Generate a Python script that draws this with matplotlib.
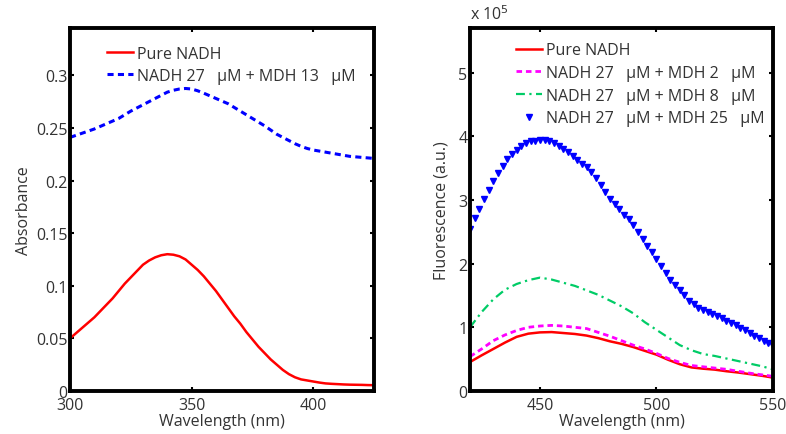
import matplotlib
matplotlib.use("Agg")
import matplotlib.pyplot as plt

plt.rcParams['font.family'] = ['Open Sans', 'DejaVu Sans']
plt.rcParams['text.color'] = '#333333'
plt.rcParams['axes.labelcolor'] = '#333333'
plt.rcParams['xtick.color'] = '#000000'
plt.rcParams['ytick.color'] = '#000000'
plt.rcParams['xtick.labelcolor'] = '#333333'
plt.rcParams['ytick.labelcolor'] = '#333333'

# --- absorbance panel data (2.5 nm steps) ---
abs_wl = [300, 302.5, 305, 307.5, 310, 312.5, 315, 317.5, 320, 322.5, 325,
          327.5, 330, 332.5, 335, 337.5, 340, 342.5, 345, 347.5, 350, 352.5,
          355, 357.5, 360, 362.5, 365, 367.5, 370, 372.5, 375, 377.5, 380,
          382.5, 385, 387.5, 390, 392.5, 395, 397.5, 400, 402.5, 405, 407.5,
          410, 412.5, 415, 417.5, 420, 422.5, 425]
abs_pure = [0.050, 0.055, 0.060, 0.065, 0.070, 0.076, 0.082, 0.088, 0.095,
            0.102, 0.108, 0.114, 0.120, 0.124, 0.127, 0.129, 0.130, 0.1295,
            0.128, 0.125, 0.120, 0.115, 0.109, 0.102, 0.095, 0.087, 0.079,
            0.071, 0.064, 0.056, 0.049, 0.042, 0.036, 0.030, 0.025, 0.020,
            0.016, 0.013, 0.011, 0.010, 0.009, 0.008, 0.0072, 0.0068, 0.0065,
            0.0062, 0.0060, 0.0059, 0.0058, 0.0056, 0.0055]
abs_mdh13 = [0.241, 0.243, 0.245, 0.247, 0.249, 0.2515, 0.254, 0.2565, 0.259,
             0.2625, 0.266, 0.269, 0.272, 0.275, 0.278, 0.281, 0.284, 0.2858,
             0.287, 0.2875, 0.287, 0.2853, 0.283, 0.2805, 0.278, 0.2755, 0.273,
             0.2695, 0.266, 0.2625, 0.259, 0.2555, 0.252, 0.248, 0.244, 0.241,
             0.238, 0.235, 0.2325, 0.2305, 0.229, 0.228, 0.227, 0.226, 0.225,
             0.224, 0.223, 0.2225, 0.222, 0.2215, 0.221]

# --- fluorescence panel data (x 1e5) ---
fl_wl = [420, 425, 430, 435, 440, 445, 450, 455, 460, 465, 470, 475, 480, 485,
         490, 495, 500, 505, 510, 515, 520, 525, 530, 535, 540, 545, 550]
fl_pure = [0.455, 0.56, 0.66, 0.76, 0.85, 0.90, 0.92, 0.925, 0.91, 0.895, 0.87,
           0.83, 0.78, 0.74, 0.69, 0.63, 0.57, 0.49, 0.42, 0.37, 0.35, 0.335,
           0.31, 0.29, 0.265, 0.24, 0.21]
fl_mdh2 = [0.54, 0.66, 0.79, 0.88, 0.95, 1.00, 1.02, 1.03, 1.02, 1.00, 0.98,
           0.92, 0.86, 0.79, 0.72, 0.66, 0.59, 0.51, 0.45, 0.40, 0.38, 0.36,
           0.34, 0.31, 0.28, 0.255, 0.23]
fl_mdh8 = [1.00, 1.24, 1.44, 1.59, 1.68, 1.74, 1.78, 1.75, 1.70, 1.65, 1.58,
           1.51, 1.42, 1.33, 1.22, 1.08, 0.96, 0.84, 0.72, 0.64, 0.58, 0.55,
           0.51, 0.47, 0.43, 0.39, 0.34]
fl_wl25 = list(range(420, 551, 2))
fl_mdh25 = [2.55, 2.71, 2.86, 3.02, 3.16, 3.29, 3.42, 3.54, 3.64, 3.72, 3.79,
            3.85, 3.89, 3.92, 3.93, 3.94, 3.94, 3.93, 3.90, 3.85, 3.80, 3.75,
            3.69, 3.63, 3.57, 3.51, 3.44, 3.35, 3.24, 3.12, 3.02, 2.93, 2.85,
            2.77, 2.70, 2.60, 2.49, 2.38, 2.28, 2.18, 2.07, 1.96, 1.85, 1.74,
            1.66, 1.58, 1.51, 1.42, 1.36, 1.31, 1.27, 1.24, 1.21, 1.18, 1.14,
            1.10, 1.07, 1.03, 0.99, 0.95, 0.91, 0.87, 0.83, 0.79, 0.75, 0.71]

abs_xticks = [300, 350, 400]
abs_yticks = [0, 0.05, 0.1, 0.15, 0.2, 0.25, 0.3]
abs_yticklabels = ['0', '0.05', '0.1', '0.15', '0.2', '0.25', '0.3']
fl_xticks = [450, 500, 550]
fl_yticks = [0, 1, 2, 3, 4, 5]

FS = 11.5


def style_axes(ax):
    for s in ax.spines.values():
        s.set_linewidth(2.8)
    ax.tick_params(direction='in', length=3, width=1.5, top=True, right=True,
                   labelsize=FS)
    ax.tick_params(axis='x', pad=4)
    ax.tick_params(axis='y', pad=2)


fig = plt.figure(figsize=(7.86, 4.35), dpi=100)

# Left: absorbance
ax1 = fig.add_axes([0.0891, 0.0989, 0.3868, 0.8345])
ax1.plot(abs_wl, abs_pure, color='#ff0000', lw=1.8, label='Pure NADH')
ax1.plot(abs_wl, abs_mdh13, color='#0000ff', lw=2.2, dashes=(2.0, 1.4),
         label='NADH 27   \u03bcM + MDH 13   \u03bcM')
ax1.set_xlim(300, 425)
ax1.set_ylim(0, 0.345)
ax1.set_xticks(abs_xticks)
ax1.set_yticks(abs_yticks)
ax1.set_yticklabels(abs_yticklabels)
ax1.set_xlabel('Wavelength (nm)', fontsize=FS, labelpad=0)
ax1.set_ylabel('Absorbance', fontsize=FS, labelpad=3)
style_axes(ax1)
ax1.legend(loc='upper left', bbox_to_anchor=(0.075, 0.99), frameon=False,
           fontsize=FS, handlelength=1.6, handletextpad=0.25, labelspacing=0.35)

# Right: fluorescence
ax2 = fig.add_axes([0.598, 0.0989, 0.3855, 0.8345])
ax2.plot(fl_wl, fl_pure, color='#ff0000', lw=1.8, label='Pure NADH')
ax2.plot(fl_wl, fl_mdh2, color='#ff00ff', lw=2.0, dashes=(2.0, 1.4),
         label='NADH 27   \u03bcM + MDH 2   \u03bcM')
ax2.plot(fl_wl, fl_mdh8, color='#00cc66', lw=1.6, dashes=(4, 2, 1, 2),
         label='NADH 27   \u03bcM + MDH 8   \u03bcM')
ax2.plot(fl_wl25, fl_mdh25, linestyle='none', marker='v', ms=4.5,
         color='#0000ff', label='NADH 27   \u03bcM + MDH 25   \u03bcM')
ax2.set_xlim(420, 550)
ax2.set_ylim(0, 5.7)
ax2.set_xticks(fl_xticks)
ax2.set_yticks(fl_yticks)
ax2.set_xlabel('Wavelength (nm)', fontsize=FS, labelpad=0)
ax2.set_ylabel('Fluorescence (a.u.)', fontsize=FS, labelpad=6)
style_axes(ax2)
ax2.legend(loc='upper left', bbox_to_anchor=(0.105, 1.0), frameon=False,
           fontsize=FS, handlelength=1.6, handletextpad=0.25, labelspacing=0.42)
ax2.text(0.0, 1.015, 'x 10$^{5}$', transform=ax2.transAxes, fontsize=FS,
         ha='left', va='bottom')

fig.savefig('out.png', dpi=100)
